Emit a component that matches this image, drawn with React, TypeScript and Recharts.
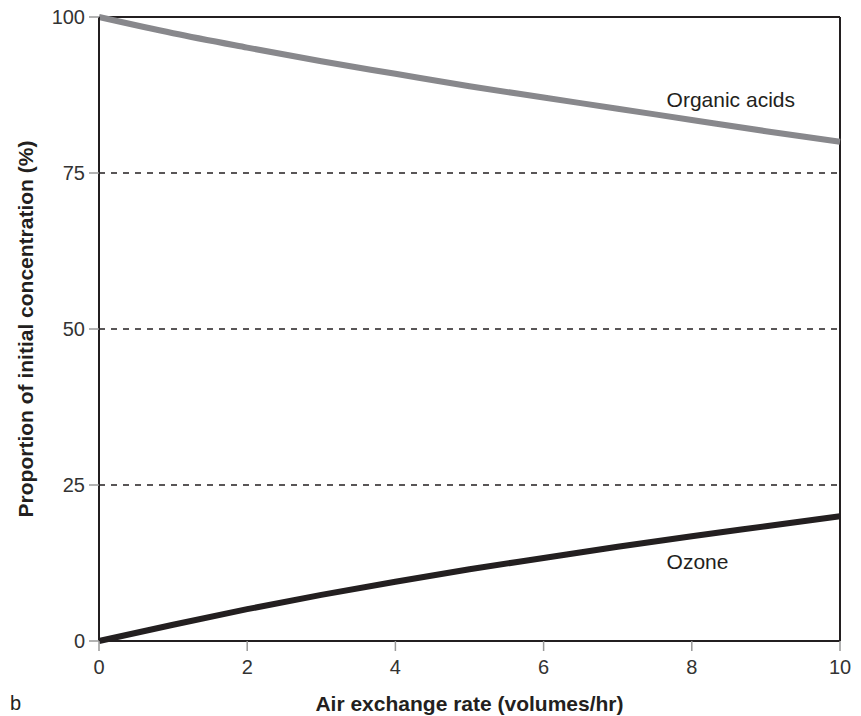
import React from "react";
import {
  LineChart,
  Line,
  XAxis,
  YAxis,
  ReferenceLine,
  ReferenceDot,
  Label,
} from "recharts";

// air exchange rate (volumes/hr)
const rates = [0, 1, 2, 3, 4, 5, 6, 7, 8, 9, 10];
// proportion of initial concentration (%)
const organicAcids = [100, 97.4, 95.1, 92.9, 90.9, 88.9, 87.1, 85.3, 83.5, 81.7, 80];
const ozone = [0, 2.6, 5.1, 7.4, 9.5, 11.5, 13.3, 15.1, 16.8, 18.4, 20];

const xTicks = [0, 2, 4, 6, 8, 10];
const yTicks = [0, 25, 50, 75, 100];
const dashedLevels = [25, 50, 75];

const data = rates.map((r, i) => ({ rate: r, organic: organicAcids[i], ozone: ozone[i] }));

const FONT = "'Liberation Sans', Arial, Helvetica, sans-serif";
const tickStyle = { fill: "#333", fontSize: 20, fontFamily: FONT };
const noteStyle = { fill: "#231f20", fontSize: 21, fontFamily: FONT };

export default function App() {
  return (
    <div style={{ position: "absolute", left: 0, top: 0, width: 861, height: 716, background: "#fff" }}>
      <LineChart width={861} height={716} data={data} margin={{ top: 17, right: 21, bottom: 0, left: 0 }}>
        <XAxis
          dataKey="rate"
          type="number"
          domain={[0, 10]}
          ticks={xTicks}
          height={75}
          tick={tickStyle}
          stroke="#231f20"
          strokeWidth={2}
          tickLine={{ stroke: "#999", strokeWidth: 1.5 }}
          tickSize={10}
          tickMargin={9}
        >
          <Label
            value="Air exchange rate (volumes/hr)"
            position="insideBottom"
            offset={5}
            style={{ fill: "#231f20", fontSize: 21, fontWeight: 700, fontFamily: FONT }}
          />
        </XAxis>
        <YAxis
          type="number"
          domain={[0, 100]}
          ticks={yTicks}
          width={99}
          tick={tickStyle}
          stroke="#231f20"
          strokeWidth={2}
          tickLine={{ stroke: "#999", strokeWidth: 1.5 }}
          tickSize={10}
          tickMargin={4}
        >
          <Label
            value="Proportion of initial concentration (%)"
            angle={-90}
            position="insideLeft"
            offset={26}
            style={{ textAnchor: "middle", fill: "#231f20", fontSize: 21, fontWeight: 700, fontFamily: FONT }}
          />
        </YAxis>
        {dashedLevels.map((v) => (
          <ReferenceLine key={v} y={v} stroke="#231f20" strokeWidth={1.5} strokeDasharray="6 6" />
        ))}
        <ReferenceLine y={100} stroke="#231f20" strokeWidth={2} />
        <ReferenceLine x={10} stroke="#231f20" strokeWidth={2} />
        <Line
          dataKey="organic"
          stroke="#88888c"
          strokeWidth={6}
          dot={false}
          type="monotone"
          isAnimationActive={false}
        />
        <Line
          dataKey="ozone"
          stroke="#231f20"
          strokeWidth={6}
          dot={false}
          type="monotone"
          isAnimationActive={false}
        />
        <ReferenceDot
          x={7.66}
          y={86.7}
          r={0}
          label={{ value: "Organic acids", position: "right", offset: 0, style: noteStyle }}
        />
        <ReferenceDot
          x={7.66}
          y={12.7}
          r={0}
          label={{ value: "Ozone", position: "right", offset: 0, style: noteStyle }}
        />
      </LineChart>
      <div style={{ position: "absolute", left: 10, top: 692, fontFamily: FONT, fontSize: 20, color: "#231f20" }}>b</div>
    </div>
  );
}
